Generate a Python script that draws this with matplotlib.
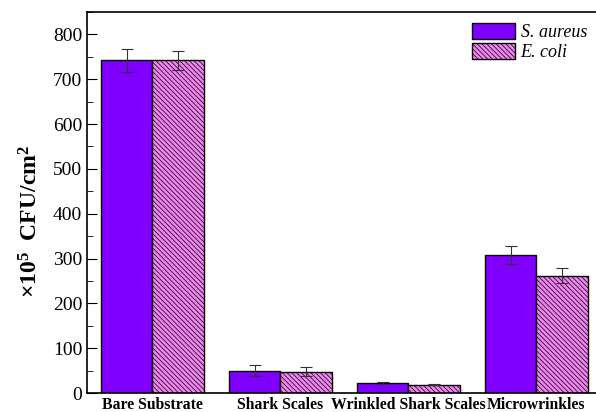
import numpy as np
import matplotlib.pyplot as plt
from matplotlib.ticker import MultipleLocator

plt.rcParams['font.family'] = ['Liberation Serif', 'DejaVu Serif']
plt.rcParams['mathtext.fontset'] = 'custom'
plt.rcParams['mathtext.rm'] = 'Liberation Serif'
plt.rcParams['mathtext.bf'] = 'Liberation Serif:bold'
plt.rcParams['hatch.linewidth'] = 0.5
plt.rcParams['hatch.color'] = '#444444'

categories = ["Bare Substrate", "Shark Scales", "Wrinkled Shark Scales", "Microwrinkles"]
s_aureus = [742, 50, 23, 308]
s_aureus_err = [25, 12, 2, 20]
e_coli = [742, 48, 19, 262]
e_coli_err = [22, 10, 2, 17]

x = np.arange(len(categories))
w = 0.4

fig = plt.figure(figsize=(5.96, 4.12), dpi=100)
ax = fig.add_axes([0.146, 0.046, 0.87, 0.925])

ax.bar(x - w / 2, s_aureus, w, color='#7F00FF', edgecolor='black', linewidth=1.0,
       yerr=s_aureus_err, capsize=4, error_kw=dict(elinewidth=0.8, capthick=0.8, ecolor='#333333'),
       label='S. aureus')
ax.bar(x + w / 2, e_coli, w, color='#F283F2', edgecolor='black', linewidth=1.0, hatch='\\' * 7,
       yerr=e_coli_err, capsize=4, error_kw=dict(elinewidth=0.8, capthick=0.8, ecolor='#333333'),
       label='E. coli')

ax.set_xlim(-0.51, 3.54)
ax.set_ylim(0, 850)
ax.set_xticks(x)
ax.set_xticklabels(categories, fontweight='bold', fontsize=11.3)
ax.tick_params(axis='x', length=0, pad=3)
ax.yaxis.set_major_locator(MultipleLocator(100))
ax.yaxis.set_minor_locator(MultipleLocator(50))
ax.tick_params(axis='y', which='major', direction='in', length=7, labelsize=14)
ax.tick_params(axis='y', which='minor', direction='in', length=4)
for s in ax.spines.values():
    s.set_linewidth(1.2)
ax.spines['right'].set_visible(False)

ax.set_ylabel(r'$\mathbf{\times 10^5}$  CFU/cm$\mathbf{^2}$', fontweight='bold', fontsize=17)
ax.yaxis.set_label_coords(-0.085, 0.45)

ax.legend(loc='upper right', bbox_to_anchor=(0.985, 1.0), frameon=False,
          prop=dict(style='italic', size=13), handlelength=2.4, handleheight=1.0,
          handletextpad=0.3, labelspacing=0.1, borderaxespad=0.2)

fig.savefig('out.png', dpi=100)
